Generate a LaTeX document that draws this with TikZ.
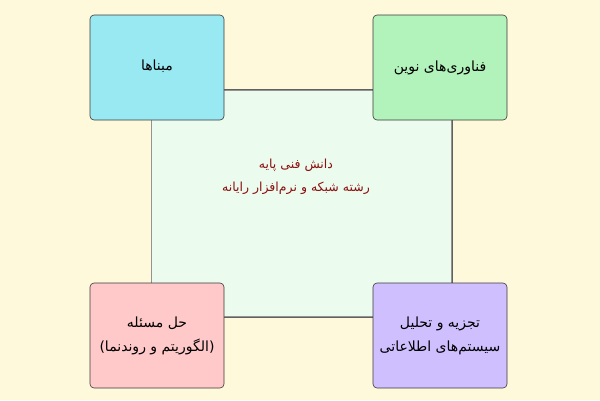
\documentclass[tikz,border=0pt]{standalone}
\usepackage{fontspec}
\newfontfamily\arabicfont[Script=Arabic]{DejaVu Sans}
\TeXXeTstate=1
\definecolor{bgc}{HTML}{FFF9DB}
\definecolor{cyanbox}{HTML}{99E9F2}
\definecolor{greenbox}{HTML}{B2F2BB}
\definecolor{pinkbox}{HTML}{FFC9C9}
\definecolor{purplebox}{HTML}{D0BFFF}
\definecolor{centerbox}{HTML}{EBFBEE}
\definecolor{darkred}{HTML}{8B1010}
\definecolor{edge}{HTML}{3A3A3A}
\tikzset{
  corner/.style={draw=edge, line width=0.6pt, rounded corners=4pt, minimum width=134pt, minimum height=105pt, inner sep=0pt, align=center, font=\arabicfont\fontsize{14}{24}\selectfont, text=black},
  centre/.style={draw=edge!80, line width=0.6pt, fill=centerbox, minimum width=301pt, minimum height=228pt, inner sep=0pt},
  sketchline/.style={draw=edge!55, line width=0.5pt},
  centretext/.style={align=center, inner sep=0pt, font=\arabicfont\fontsize{12.5}{23.5}\selectfont, text=darkred},
}
\begin{document}
\begin{tikzpicture}[x=1pt,y=-1pt]
\fill[bgc] (0,0) rectangle (600,400);
\useasboundingbox (0,0) rectangle (600,400);
\node[centre] (c) at (301.5,203) {};
\draw[sketchline] ([yshift=-1.3pt]c.north west) -- ([yshift=-1.3pt]c.north east);
\draw[sketchline] ([yshift=1.5pt]c.south west) -- ([yshift=1.5pt]c.south east);
\draw[sketchline] ([xshift=1pt]c.north west) -- ([xshift=1pt]c.south west);
\draw[sketchline] ([xshift=-1pt]c.north east) -- ([xshift=-1pt]c.south east);
\node[centretext] (ct) at (296,177) {\beginR دانش فنی پایه\endR\\\beginR رشته شبکه و نرم‌افزار رایانه\endR};
\node[corner, fill=cyanbox] (a) at (157,67.5) {\raisebox{4pt}{\beginR مبناها\endR}};
\node[corner, fill=greenbox] (b) at (440,67.5) {\beginR فناوری‌های نوین\endR};
\node[corner, fill=pinkbox] (d) at (157,335.5) {\beginR حل مسئله\endR\\\beginR (الگوریتم و روندنما)\endR};
\node[corner, fill=purplebox] (e) at (440,335.5) {\beginR تجزیه و تحلیل\endR\\\beginR سیستم‌های اطلاعاتی\endR};
\end{tikzpicture}
\end{document}
